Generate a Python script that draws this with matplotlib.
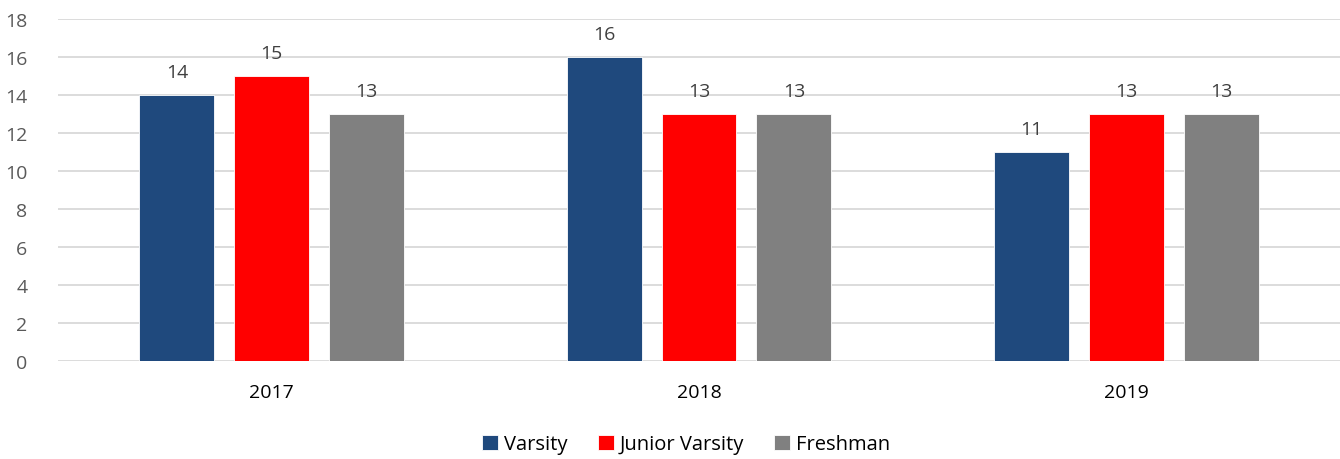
import matplotlib
matplotlib.use("Agg")
import matplotlib.pyplot as plt
import numpy as np

years = ["2017", "2018", "2019"]
series_names = ["Varsity", "Junior Varsity", "Freshman"]
varsity = [14, 16, 11]
junior_varsity = [15, 13, 13]
freshman = [13, 13, 13]
colors = ["#1F497D", "#FF0000", "#808080"]

plt.rcParams['font.family'] = ['Open Sans', 'DejaVu Sans']

fig = plt.figure(figsize=(13.4, 4.6), dpi=100)
ax = fig.add_axes([0.0433, 0.213, 0.9567, 0.7435])

x = np.arange(len(years))
width = 0.175
step = 0.222
for i, (name, vals, c) in enumerate(zip(series_names, [varsity, junior_varsity, freshman], colors)):
    pos = x + (i - 1) * step
    bars = ax.bar(pos, vals, width, color=c, label=name, edgecolor="white", linewidth=0.6, zorder=3)
    for b, v in zip(bars, vals):
        ax.text(b.get_x() + b.get_width() / 2, v + 0.75, str(v), ha="center", va="bottom",
                fontsize=14, color="#404040")

ax.set_xlim(-0.5, 2.5)
ax.set_ylim(0, 18)
ax.set_yticks(range(0, 19, 2))
ax.set_xticks(x)
ax.set_xticklabels(years, fontsize=14, color="black")
ax.tick_params(axis="y", labelsize=14, labelcolor="#595959", length=0, pad=22)
ax.tick_params(axis="x", length=0, pad=16)
ax.grid(axis="y", color="#D9D9D9", linewidth=1.3, zorder=0)
for s in ax.spines.values():
    s.set_visible(False)
for lab in ax.get_yticklabels():
    lab.set_horizontalalignment("right")

handles, labels = ax.get_legend_handles_labels()
fig.legend(handles, labels, loc="center", bbox_to_anchor=(0.512, 0.032), ncol=3, frameon=False,
           fontsize=14.5, handlelength=0.8, handleheight=0.8, handletextpad=0.3, columnspacing=1.5)

fig.savefig("out.png", dpi=100)
